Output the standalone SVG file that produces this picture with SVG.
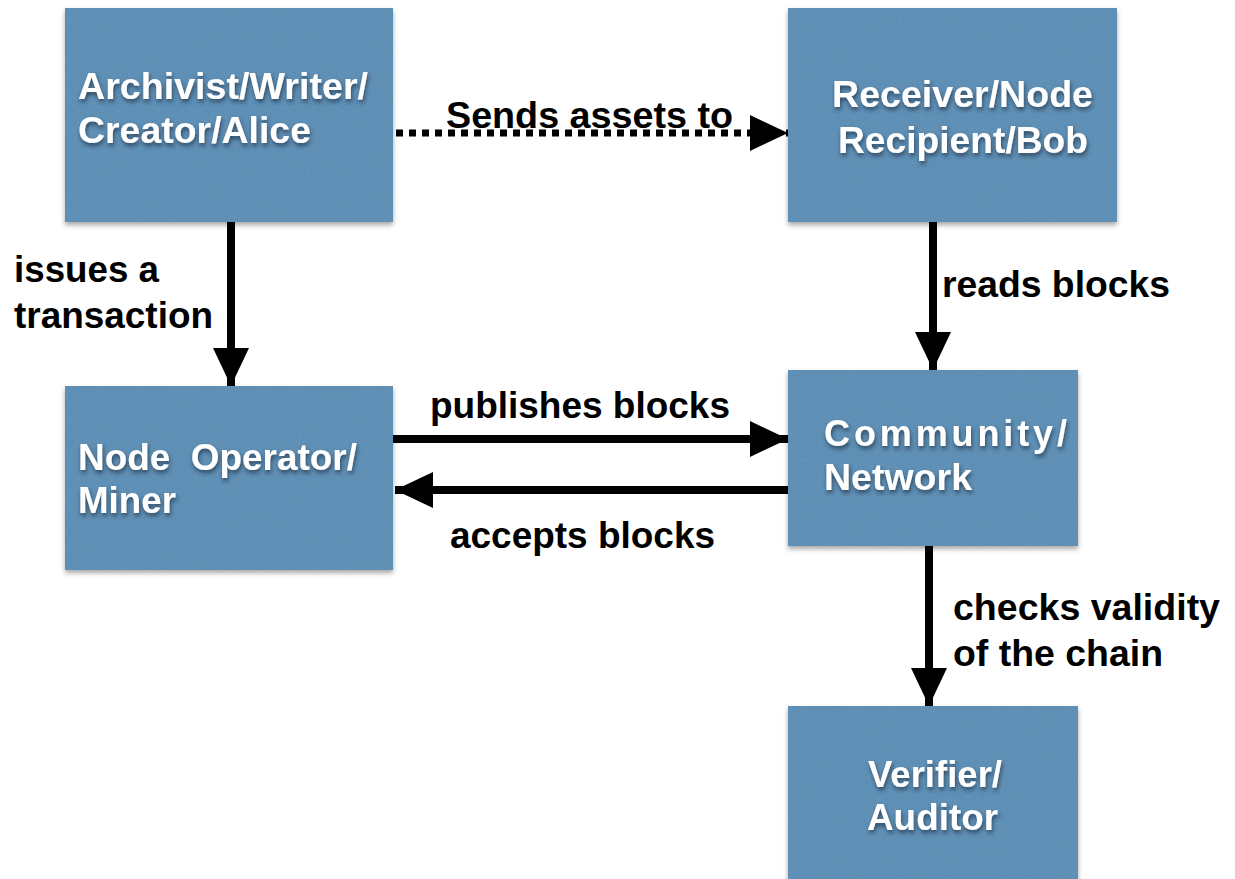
<svg xmlns="http://www.w3.org/2000/svg" width="1235" height="879" viewBox="0 0 1235 879">
  <defs>
    <style>
      .box { fill: #6092b9; }
      .noise { opacity: 0.45; }
      .nt { font-family: "Liberation Sans", Arial, Helvetica, sans-serif; font-weight: bold; font-size: 36px; fill: #ffffff; }
      .lbl { font-family: "Liberation Sans", Arial, Helvetica, sans-serif; font-weight: bold; font-size: 36px; fill: #000000; }
      .conn { stroke: #000; stroke-width: 8; fill: none; }
      .dot { stroke: #000; stroke-width: 7; fill: none; stroke-dasharray: 7 6; }
    </style>
    <filter id="shadow" x="-10%" y="-10%" width="125%" height="125%">
      <feDropShadow dx="0" dy="3" stdDeviation="2.5" flood-color="#000" flood-opacity="0.35"/>
    </filter>
    <filter id="tshadow" x="-10%" y="-20%" width="125%" height="150%">
      <feDropShadow dx="1" dy="3" stdDeviation="2" flood-color="#1a2a3a" flood-opacity="0.7"/>
    </filter>
    <filter id="grain" x="0" y="0" width="100%" height="100%">
      <feTurbulence type="fractalNoise" baseFrequency="0.9" numOctaves="2" seed="5" result="n"/>
      <feColorMatrix in="n" type="matrix" values="0 0 0 0 0.1  0 0 0 0 0.2  0 0 0 0 0.3  2.2 0 0 0 -0.95" result="g"/>
      <feComposite in="g" in2="SourceGraphic" operator="in"/>
    </filter>
    <marker id="ah" viewBox="0 0 38 36" refX="38" refY="18" markerWidth="38" markerHeight="36" markerUnits="userSpaceOnUse" orient="auto">
      <path d="M0,0 L38,18 L0,36 Z" fill="#000"/>
    </marker>
  </defs>

  <rect width="1235" height="879" fill="#ffffff"/>

  <g id="node-archivist">
    <rect class="box" x="65" y="8" width="328" height="214" filter="url(#shadow)"/>
    <rect class="noise" x="65" y="8" width="328" height="214" fill="#000" filter="url(#grain)"/>
    <g filter="url(#tshadow)">
      <text class="nt" x="78" y="99" textLength="290" lengthAdjust="spacingAndGlyphs">Archivist/Writer/</text>
      <text class="nt" x="78" y="143" textLength="233" lengthAdjust="spacingAndGlyphs">Creator/Alice</text>
    </g>
  </g>

  <g id="node-receiver">
    <rect class="box" x="788" y="8" width="329" height="214" filter="url(#shadow)"/>
    <rect class="noise" x="788" y="8" width="329" height="214" fill="#000" filter="url(#grain)"/>
    <g filter="url(#tshadow)">
      <text class="nt" x="832" y="107" textLength="261" lengthAdjust="spacingAndGlyphs">Receiver/Node</text>
      <text class="nt" x="838" y="153" textLength="250" lengthAdjust="spacingAndGlyphs">Recipient/Bob</text>
    </g>
  </g>

  <g id="node-operator">
    <rect class="box" x="65" y="386" width="328" height="184" filter="url(#shadow)"/>
    <rect class="noise" x="65" y="386" width="328" height="184" fill="#000" filter="url(#grain)"/>
    <g filter="url(#tshadow)">
      <text class="nt" x="78" y="470" textLength="279" lengthAdjust="spacingAndGlyphs" style="white-space:pre" xml:space="preserve">Node  Operator/</text>
      <text class="nt" x="78" y="513" textLength="98" lengthAdjust="spacingAndGlyphs">Miner</text>
    </g>
  </g>

  <g id="node-community">
    <rect class="box" x="788" y="370" width="290" height="176" filter="url(#shadow)"/>
    <rect class="noise" x="788" y="370" width="290" height="176" fill="#000" filter="url(#grain)"/>
    <g filter="url(#tshadow)">
      <text class="nt" x="824" y="446" textLength="243" lengthAdjust="spacing">Community/</text>
      <text class="nt" x="824" y="490" textLength="148" lengthAdjust="spacingAndGlyphs">Network</text>
    </g>
  </g>

  <g id="node-verifier">
    <rect class="box" x="788" y="706" width="290" height="180" filter="url(#shadow)"/>
    <rect class="noise" x="788" y="706" width="290" height="180" fill="#000" filter="url(#grain)"/>
    <g filter="url(#tshadow)">
      <text class="nt" x="868" y="787" textLength="134" lengthAdjust="spacingAndGlyphs">Verifier/</text>
      <text class="nt" x="867" y="830" textLength="131" lengthAdjust="spacingAndGlyphs">Auditor</text>
    </g>
  </g>

  <g id="connectors">
    <line class="dot" x1="396" y1="133" x2="788" y2="133" marker-end="url(#ah)"/>
    <line class="conn" x1="231" y1="222" x2="231" y2="386" marker-end="url(#ah)"/>
    <line class="conn" x1="933" y1="222" x2="933" y2="370" marker-end="url(#ah)"/>
    <line class="conn" x1="393" y1="439" x2="788" y2="439" marker-end="url(#ah)"/>
    <line class="conn" x1="788" y1="490" x2="395" y2="490" marker-end="url(#ah)"/>
    <line class="conn" x1="929" y1="546" x2="929" y2="706" marker-end="url(#ah)"/>
  </g>

  <g id="labels">
    <text class="lbl" x="446" y="128" textLength="287" lengthAdjust="spacingAndGlyphs">Sends assets to</text>
    <text class="lbl" x="14" y="282" textLength="145" lengthAdjust="spacingAndGlyphs">issues a</text>
    <text class="lbl" x="14" y="328" textLength="199" lengthAdjust="spacingAndGlyphs">transaction</text>
    <text class="lbl" x="942" y="297" textLength="228" lengthAdjust="spacingAndGlyphs">reads blocks</text>
    <text class="lbl" x="430" y="418" textLength="300" lengthAdjust="spacingAndGlyphs">publishes blocks</text>
    <text class="lbl" x="450" y="548" textLength="265" lengthAdjust="spacingAndGlyphs">accepts blocks</text>
    <text class="lbl" x="953" y="620" textLength="267" lengthAdjust="spacingAndGlyphs">checks validity</text>
    <text class="lbl" x="953" y="666" textLength="210" lengthAdjust="spacingAndGlyphs">of the chain</text>
  </g>
</svg>
